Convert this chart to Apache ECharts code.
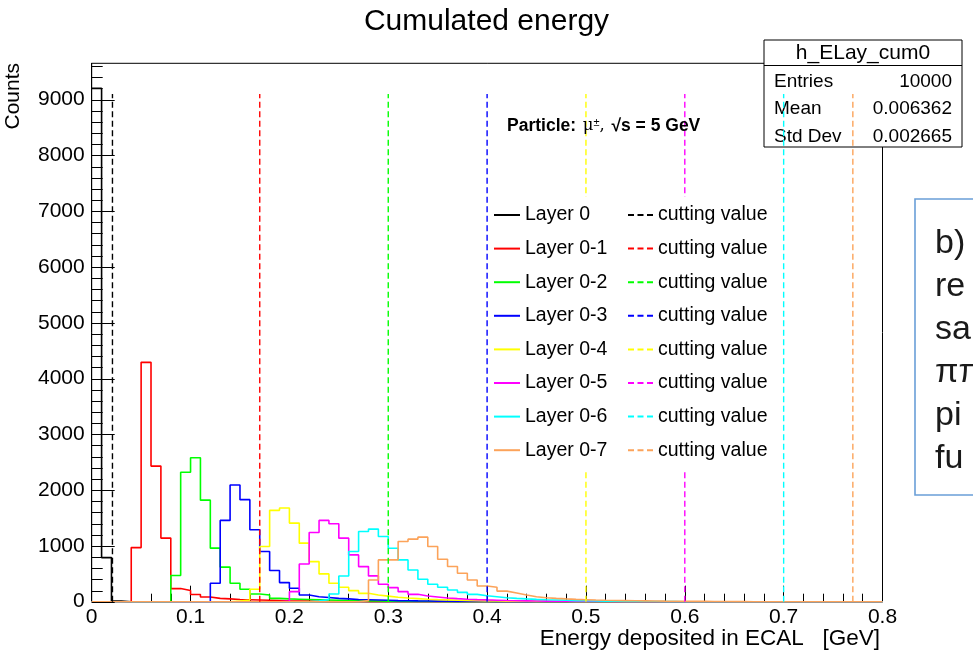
<!DOCTYPE html>
<html><head><meta charset="utf-8">
<script src="https://cdn.jsdelivr.net/npm/echarts@6/dist/echarts.min.js"></script>
<style>html,body{margin:0;padding:0;background:#fff}#c{width:973px;height:656px}</style>
</head><body><div id="c"></div>
<script>
// ---------------- data ----------------
const binWidth = 0.01;
const nBins = 80;
const layerNames = ['Layer 0', 'Layer 0-1', 'Layer 0-2', 'Layer 0-3', 'Layer 0-4', 'Layer 0-5', 'Layer 0-6', 'Layer 0-7'];
// counts per 0.01 GeV bin, starting at 0 GeV (bins not listed are empty)
const layer0  = [9200, 790, 10];
const layer01 = [0,0,0,0, 970, 4290, 2430, 1140, 235, 200, 130, 85, 60, 50, 40, 35, 30, 25, 20, 15, 12, 10, 8, 6, 5, 4, 3, 2, 2, 1];
const layer02 = [0,0,0,0,0,0,0,0, 470, 2320, 2580, 1820, 960, 620, 330, 222, 138, 120, 60, 50, 45, 40, 35, 30, 25, 20, 18, 15, 12, 10, 8, 6, 5, 4, 3, 2, 2, 1];
const layer03 = [0,0,0,0,0,0,0,0,0,0,0,0, 330, 1457, 2092, 1829, 1289, 899, 558, 342, 240, 120, 90, 75, 60, 50, 40, 35, 30, 25, 20, 17, 14, 12, 10, 8, 6, 5, 4, 3, 2, 1];
const layer04 = [0,0,0,0,0,0,0,0,0,0,0,0,0,0, 10, 30, 222, 989, 1637, 1679, 1409, 1049, 719, 498, 330, 258, 198, 150, 120, 100, 80, 65, 55, 45, 38, 32, 26, 22, 18, 15, 12, 10, 8, 7, 6, 5, 4, 3, 2, 1];
const layer05 = [0,0,0,0,0,0,0,0,0,0,0,0,0,0,0,0,0,0,0, 10, 180, 677, 1241, 1457, 1397, 1139, 839, 629, 462, 312, 252, 180, 132, 102, 84, 66, 55, 45, 38, 32, 27, 22, 18, 15, 12, 10, 8, 7, 6, 5, 4, 3, 2, 1];
const layer06 = [0,0,0,0,0,0,0,0,0,0,0,0,0,0,0,0,0,0,0,0,0,0, 10, 40, 137, 461, 899, 1259, 1301, 1169, 959, 749, 569, 402, 312, 258, 210, 168, 132, 108, 90, 72, 60, 50, 42, 35, 30, 25, 20, 16, 13, 10, 8, 6, 5, 4, 3, 2, 1];
const layer07 = [0,0,0,0,0,0,0,0,0,0,0,0,0,0,0,0,0,0,0,0,0,0,0,0,0,0,0, 20, 390, 749, 749, 1079, 1121, 1157, 989, 761, 630, 510, 390, 282, 258, 190, 155, 120, 90, 72, 60, 50, 42, 36, 30, 25, 22, 19, 16, 14, 12, 10, 9, 8, 6, 5, 4, 3, 2, 1];
const layerCounts = [layer0, layer01, layer02, layer03, layer04, layer05, layer06, layer07];
const cutValues = [0.021, 0.17, 0.30, 0.40, 0.50, 0.60, 0.70, 0.77];
const cutLineTop = 9100;
const cutLabel = 'cutting value';
const yMajorTicks = [0, 1000, 2000, 3000, 4000, 5000, 6000, 7000, 8000, 9000];
const yMinorTicks = [200, 400, 600, 800, 1200, 1400, 1600, 1800, 2200, 2400, 2600, 2800, 3200, 3400, 3600, 3800,
  4200, 4400, 4600, 4800, 5200, 5400, 5600, 5800, 6200, 6400, 6600, 6800, 7200, 7400, 7600, 7800,
  8200, 8400, 8600, 8800, 9200, 9400, 9600];
const statsTitle = 'h_ELay_cum0';
const statsNames = ['Entries', 'Mean', 'Std Dev'];
const statsValues = ['10000', '0.006362', '0.002665'];
const sideLines = ['b)', 're', 'sa', 'ππ', 'pi', 'fu'];

// ---------------- style ----------------
const FONT = '"Liberation Sans", Arial, Helvetica, sans-serif';
const colors = ['#000000', '#ff0000', '#00ff00', '#0000ff', '#ffff00', '#ff00ff', '#00ffff', '#fca35a'];

function histPoints(counts) {
  const pts = [];
  for (let i = 0; i < nBins; i++) pts.push([+(i * binWidth).toFixed(2), counts[i] || 0]);
  pts.push([+(nBins * binWidth).toFixed(2), counts[nBins - 1] || 0]);
  return pts;
}
// unique legend names for the repeated "cutting value" entries
const cutNames = cutValues.map((c, i) => cutLabel + '\u200b'.repeat(i + 1));

const series = [];
layerCounts.forEach((counts, i) => {
  series.push({
    name: layerNames[i], type: 'line', step: 'end', symbol: 'none', showSymbol: false,
    data: histPoints(counts), color: colors[i],
    lineStyle: { color: colors[i], width: 1.6 }, z: 2, silent: true
  });
});
cutValues.forEach((c, i) => {
  series.push({
    name: cutNames[i], type: 'line', symbol: 'none', showSymbol: false,
    data: [[c, 0], [c, cutLineTop]], color: colors[i],
    lineStyle: { color: colors[i], width: 1.4, type: [6, 3.5] }, z: 2, silent: true
  });
});
// y-axis ticks (inside, ROOT style)
series.push({
  type: 'custom', silent: true, z: 3, clip: false,
  data: yMajorTicks.map(v => [0, v, 1]).concat(yMinorTicks.map(v => [0, v, 0])),
  encode: { x: 0, y: 1 },
  renderItem: (params, api) => {
    const p = api.coord([0, api.value(1)]);
    const len = api.value(2) ? 23 : 11;
    const y = Math.round(p[1]) + 0.5;
    return { type: 'line', shape: { x1: p[0], y1: y, x2: p[0] + len, y2: y }, style: { stroke: '#000', lineWidth: 1 } };
  }
});

const legendCommon = {
  orient: 'vertical', top: 205, itemHeight: 14, itemGap: 13.6,
  selectedMode: false, padding: 0, z: 5,
  itemStyle: { opacity: 0 },
  textStyle: { fontFamily: FONT, fontSize: 19.5, color: '#000', lineHeight: 20 }
};

const chart = echarts.init(document.getElementById('c'), null, { renderer: 'canvas' });
chart.setOption({
  animation: false,
  backgroundColor: '#fff',
  title: {
    text: 'Cumulated energy', left: 'center', top: 2,
    textStyle: { fontFamily: FONT, fontSize: 30, fontWeight: 'normal', color: '#000' }
  },
  grid: { left: 91.7, right: 90.5, top: 63.3, bottom: 54.3, show: true, borderColor: '#000', borderWidth: 1, backgroundColor: 'transparent' },
  xAxis: {
    type: 'value', min: 0, max: 0.8, interval: 0.1,
    axisLine: { show: true, lineStyle: { color: '#000', width: 1 } },
    axisTick: { show: true, inside: true, length: 16, lineStyle: { color: '#000' } },
    minorTick: { show: true, splitNumber: 5, length: 8, lineStyle: { color: '#000' } },
    splitLine: { show: false },
    axisLabel: { fontFamily: FONT, fontSize: 21, color: '#000', margin: 5 }
  },
  yAxis: {
    type: 'value', min: 0, max: 9650, interval: 1000,
    axisLine: { show: true, lineStyle: { color: '#000', width: 1 } },
    axisTick: { show: false }, minorTick: { show: false },
    splitLine: { show: false },
    axisLabel: { fontFamily: FONT, fontSize: 21, color: '#000', margin: 7,
      formatter: v => (v % 1000 === 0 ? String(v) : '') }
  },
  legend: [
    Object.assign({ data: layerNames, left: 493, itemWidth: 26 }, legendCommon),
    Object.assign({ data: cutNames, left: 627, itemWidth: 25, formatter: () => cutLabel }, legendCommon)
  ],
  graphic: [
    // legend background
    { type: 'rect', z: 3, silent: true, shape: { x: 488, y: 197, width: 287, height: 272 }, style: { fill: '#fff' } },
    // stats box
    { type: 'rect', z: 1, silent: true, shape: { x: 764, y: 40, width: 198, height: 107 }, style: { fill: '#fff', stroke: '#000', lineWidth: 1 } },
    { type: 'line', z: 1, silent: true, shape: { x1: 764, y1: 65.5, x2: 962, y2: 65.5 }, style: { stroke: '#000', lineWidth: 1 } },
    { type: 'text', z: 1, silent: true, x: 863, y: 53, style: { text: statsTitle, font: '21px ' + FONT, fill: '#000', align: 'center', verticalAlign: 'middle' } },
    ...statsNames.map((n, i) => ({ type: 'text', z: 1, silent: true, x: 774, y: 82 + i * 27.2,
      style: { text: n, font: '19px ' + FONT, fill: '#000', align: 'left', verticalAlign: 'middle' } })),
    ...statsValues.map((v, i) => ({ type: 'text', z: 1, silent: true, x: 952, y: 82 + i * 27.2,
      style: { text: v, font: '19px ' + FONT, fill: '#000', align: 'right', verticalAlign: 'middle' } })),
    // particle label
    { type: 'text', z: 6, silent: true, x: 507, y: 126,
      style: { text: '{b|Particle:}  {g|μ}{s|±}{g|,}  {b|√s = 5 GeV}', verticalAlign: 'middle', fill: '#000',
        rich: { b: { fontFamily: FONT, fontSize: 17.5, fontWeight: 'bold', fill: '#000' },
                g: { fontFamily: '"DejaVu Serif", serif', fontSize: 16.5, fill: '#000' },
                s: { fontFamily: FONT, fontSize: 11, verticalAlign: 'top', fill: '#000' } } } },
    // axis titles
    { type: 'text', silent: true, x: 13, y: 63, rotation: Math.PI / 2,
      style: { text: 'Counts', font: '21px ' + FONT, fill: '#000', align: 'right', verticalAlign: 'middle' } },
    { type: 'text', silent: true, x: 880, y: 639,
      style: { text: 'Energy deposited in ECAL   [GeV]', font: '22.5px ' + FONT, fill: '#000', align: 'right', verticalAlign: 'middle' } },
    // side text box (cut off by the page edge)
    { type: 'rect', silent: true, shape: { x: 915, y: 199, width: 80, height: 296 }, style: { fill: 'none', stroke: '#6a9fd8', lineWidth: 1.6 } },
    { type: 'text', silent: true, x: 935, y: 222,
      style: { text: sideLines.join('\n'), font: '34px ' + FONT, fill: '#1a1a1a', lineHeight: 43, align: 'left', verticalAlign: 'top' } }
  ],
  series: series
});
</script></body></html>
